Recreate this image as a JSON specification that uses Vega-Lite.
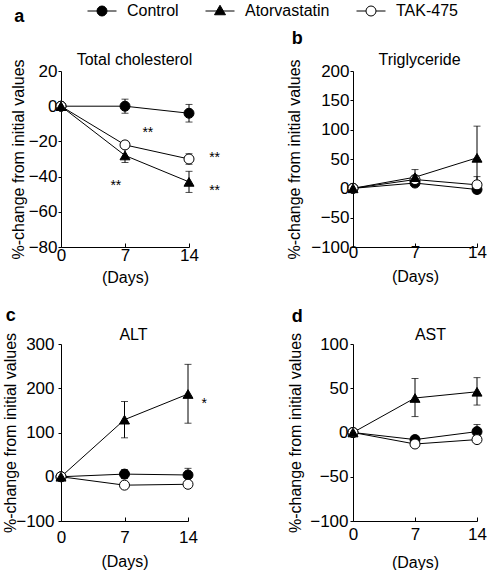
{
  "$schema": "https://vega.github.io/schema/vega-lite/v6.json",
  "padding": {"left": 2, "top": 3, "right": 2, "bottom": 0},
  "config": {
    "font": "Liberation Sans",
    "view": {"stroke": null},
    "axis": {"grid": false, "domainColor": "black", "tickColor": "black", "labelColor": "black", "titleColor": "black", "labelFontSize": 17, "titleFontSize": 16, "titleFontWeight": "normal", "domainWidth": 1, "tickWidth": 1},
    "title": {"color": "black", "fontWeight": "bold", "fontSize": 18, "anchor": "start", "frame": "bounds"}
  },
  "datasets": {
    "a": [
      {"group": "Control", "day": 0, "value": 0, "lo": null, "hi": null},
      {"group": "Control", "day": 7, "value": 0, "lo": -4, "hi": 4},
      {"group": "Control", "day": 14, "value": -4, "lo": -9, "hi": 1},
      {"group": "TAK-475", "day": 0, "value": 0, "lo": null, "hi": null},
      {"group": "TAK-475", "day": 7, "value": -22, "lo": -24, "hi": -20},
      {"group": "TAK-475", "day": 14, "value": -30, "lo": -33, "hi": -27},
      {"group": "Atorvastatin", "day": 0, "value": 0, "lo": null, "hi": null},
      {"group": "Atorvastatin", "day": 7, "value": -28, "lo": -32, "hi": -24},
      {"group": "Atorvastatin", "day": 14, "value": -43, "lo": -49, "hi": -37}
    ],
    "aStars": [
      {"day": 9.5, "value": -13.5, "label": "**"},
      {"day": 6.0, "value": -43.6, "label": "**"},
      {"day": 16.8, "value": -27.7, "label": "**"},
      {"day": 16.8, "value": -46.5, "label": "**"}
    ],
    "b": [
      {"group": "Control", "day": 0, "value": 0, "lo": null, "hi": null},
      {"group": "Control", "day": 7, "value": 9, "lo": 4, "hi": 14},
      {"group": "Control", "day": 14, "value": -2, "lo": -8, "hi": 4},
      {"group": "TAK-475", "day": 0, "value": 0, "lo": null, "hi": null},
      {"group": "TAK-475", "day": 7, "value": 15, "lo": 8, "hi": 22},
      {"group": "TAK-475", "day": 14, "value": 6, "lo": -8, "hi": 20},
      {"group": "Atorvastatin", "day": 0, "value": 0, "lo": null, "hi": null},
      {"group": "Atorvastatin", "day": 7, "value": 19, "lo": 6, "hi": 32},
      {"group": "Atorvastatin", "day": 14, "value": 52, "lo": -2, "hi": 106}
    ],
    "c": [
      {"group": "Control", "day": 0, "value": 0, "lo": null, "hi": null},
      {"group": "Control", "day": 7, "value": 6, "lo": -4, "hi": 16},
      {"group": "Control", "day": 14, "value": 4, "lo": -11, "hi": 19},
      {"group": "TAK-475", "day": 0, "value": 0, "lo": null, "hi": null},
      {"group": "TAK-475", "day": 7, "value": -19, "lo": -25, "hi": -13},
      {"group": "TAK-475", "day": 14, "value": -17, "lo": -23, "hi": -11},
      {"group": "Atorvastatin", "day": 0, "value": 0, "lo": null, "hi": null},
      {"group": "Atorvastatin", "day": 7, "value": 129, "lo": 88, "hi": 170},
      {"group": "Atorvastatin", "day": 14, "value": 187, "lo": 121, "hi": 254}
    ],
    "cStars": [
      {"day": 15.8, "value": 172, "label": "*"}
    ],
    "d": [
      {"group": "Control", "day": 0, "value": 0, "lo": null, "hi": null},
      {"group": "Control", "day": 7, "value": -8, "lo": -12, "hi": -4},
      {"group": "Control", "day": 14, "value": 1, "lo": -7, "hi": 9},
      {"group": "TAK-475", "day": 0, "value": 0, "lo": null, "hi": null},
      {"group": "TAK-475", "day": 7, "value": -13, "lo": -16, "hi": -10},
      {"group": "TAK-475", "day": 14, "value": -8, "lo": -11, "hi": -5},
      {"group": "Atorvastatin", "day": 0, "value": 0, "lo": null, "hi": null},
      {"group": "Atorvastatin", "day": 7, "value": 39, "lo": 18, "hi": 61},
      {"group": "Atorvastatin", "day": 14, "value": 46, "lo": 31, "hi": 62}
    ]
  },
  "columns": 1,
  "spacing": 22,
  "bounds": "full",
  "concat": [
    {
      "hconcat": [
        {
          "width": 128, "height": 176,
          "title": {"text": "a", "offset": 20, "dx": 4, "dy": -5},
          "data": {"name": "a"},
          "resolve": {"axis": {"x": "independent"}},
          "layer": [
            {"transform": [{"filter": "isValid(datum.lo)"}], "mark": {"type": "errorbar", "ticks": {"size": 7}, "color": "black", "thickness": 1},
             "encoding": {
               "x": {"field": "day", "type": "quantitative", "scale": {"domain": [0, 14], "nice": false}, "axis": {"values": [0, 7, 14], "title": "(Days)", "tickSize": -4, "labelPadding": 4, "titlePadding": 6, "labelFlush": false}},
               "y": {"field": "lo", "type": "quantitative", "scale": {"domain": [-80, 20], "nice": false, "zero": false}, "axis": {"values": [-80, -60, -40, -20, 0, 20], "title": "%-change from initial values", "tickSize": 3, "labelPadding": 1, "titlePadding": 2}}, "y2": {"field": "hi"}}},
            {"mark": {"type": "line", "color": "black", "strokeWidth": 1},
             "encoding": {
               "x": {"field": "day", "type": "quantitative", "scale": {"domain": [0, 14], "nice": false}, "axis": {"orient": "top", "title": "Total cholesterol", "labels": false, "ticks": false, "domain": false, "titlePadding": 4, "titleX": 73}},
               "y": {"field": "value", "type": "quantitative", "scale": {"domain": [-80, 20], "nice": false, "zero": false}, "axis": {"values": [-80, -60, -40, -20, 0, 20], "title": "%-change from initial values", "tickSize": 3, "labelPadding": 1, "titlePadding": 2}}, "detail": {"field": "group"}}},
            {"mark": {"type": "point", "filled": true, "stroke": "black", "strokeWidth": 1, "opacity": 1, "size": 100},
             "encoding": {
               "x": {"field": "day", "type": "quantitative", "scale": {"domain": [0, 14], "nice": false}, "axis": null},
               "y": {"field": "value", "type": "quantitative", "scale": {"domain": [-80, 20], "nice": false, "zero": false}, "axis": {"values": [-80, -60, -40, -20, 0, 20], "title": "%-change from initial values", "tickSize": 3, "labelPadding": 1, "titlePadding": 2}},
               "shape": {"condition": {"test": "datum.group === 'Atorvastatin'", "value": "triangle-up"}, "value": "circle"},
               "fill": {"condition": {"test": "datum.group === 'TAK-475'", "value": "white"}, "value": "black"}}},
            {"data": {"name": "aStars"}, "mark": {"type": "text", "fontSize": 14, "dy": 3, "color": "black"},
             "encoding": {
               "x": {"field": "day", "type": "quantitative", "scale": {"domain": [0, 14], "nice": false}, "axis": null},
               "y": {"field": "value", "type": "quantitative", "scale": {"domain": [-80, 20], "nice": false, "zero": false}, "axis": {"values": [-80, -60, -40, -20, 0, 20], "title": "%-change from initial values", "tickSize": 3, "labelPadding": 1, "titlePadding": 2}}, "text": {"field": "label"}}},
            {"transform": [{"filter": "false"}], "mark": {"type": "point", "filled": true, "strokeWidth": 1, "opacity": 1},
             "encoding": {
               "x": {"field": "day", "type": "quantitative", "scale": {"domain": [0, 14], "nice": false}, "axis": null},
               "y": {"field": "value", "type": "quantitative", "scale": {"domain": [-80, 20], "nice": false, "zero": false}, "axis": {"values": [-80, -60, -40, -20, 0, 20], "title": "%-change from initial values", "tickSize": 3, "labelPadding": 1, "titlePadding": 2}},
               "shape": {"field": "group", "type": "nominal", "scale": {"domain": ["Control", "Atorvastatin", "TAK-475"], "range": ["M-2.9,0L-1,0M1,0L2.9,0M1,0A1,1,0,1,1,-1,0A1,1,0,1,1,1,0Z", "M-2.9,0L2.9,0M0,-1.15L1.1,0.75L-1.1,0.75Z", "M-2.9,0L-1,0M1,0L2.9,0M1,0A1,1,0,1,1,-1,0A1,1,0,1,1,1,0Z"]},
                 "legend": {"title": null, "orient": "none", "legendX": 33, "legendY": -68, "direction": "horizontal", "labelFontSize": 16, "labelColor": "black", "symbolSize": 100, "labelOffset": 17, "columnPadding": 24, "symbolStrokeWidth": 1, "symbolOpacity": 1}},
               "fill": {"field": "group", "type": "nominal", "scale": {"domain": ["Control", "Atorvastatin", "TAK-475"], "range": ["black", "black", "white"]},
                 "legend": {"title": null, "orient": "none", "legendX": 33, "legendY": -68, "direction": "horizontal", "labelFontSize": 16, "labelColor": "black", "symbolSize": 100, "labelOffset": 17, "columnPadding": 24, "symbolStrokeWidth": 1, "symbolOpacity": 1}},
               "stroke": {"field": "group", "type": "nominal", "scale": {"domain": ["Control", "Atorvastatin", "TAK-475"], "range": ["black", "black", "black"]},
                 "legend": {"title": null, "orient": "none", "legendX": 33, "legendY": -68, "direction": "horizontal", "labelFontSize": 16, "labelColor": "black", "symbolSize": 100, "labelOffset": 17, "columnPadding": 24, "symbolStrokeWidth": 1, "symbolOpacity": 1}}}}
          ]
        },
        {
          "width": 124, "height": 176,
          "title": {"text": "b", "offset": 3, "dx": 5},
          "data": {"name": "b"},
          "resolve": {"axis": {"x": "independent"}},
          "layer": [
            {"transform": [{"filter": "isValid(datum.lo)"}], "mark": {"type": "errorbar", "ticks": {"size": 7}, "color": "black", "thickness": 1},
             "encoding": {
               "x": {"field": "day", "type": "quantitative", "scale": {"domain": [0, 14], "nice": false}, "axis": {"values": [0, 7, 14], "title": "(Days)", "tickSize": -4, "labelPadding": 1, "titlePadding": 8, "labelFlush": false}},
               "y": {"field": "lo", "type": "quantitative", "scale": {"domain": [-100, 200], "nice": false, "zero": false}, "axis": {"values": [-100, -50, 0, 50, 100, 150, 200], "title": "%-change from initial values", "tickSize": 3, "labelPadding": 1, "titlePadding": 8}}, "y2": {"field": "hi"}}},
            {"mark": {"type": "line", "color": "black", "strokeWidth": 1},
             "encoding": {
               "x": {"field": "day", "type": "quantitative", "scale": {"domain": [0, 14], "nice": false}, "axis": {"orient": "top", "title": "Triglyceride", "labels": false, "ticks": false, "domain": false, "titlePadding": 4, "titleX": 66}},
               "y": {"field": "value", "type": "quantitative", "scale": {"domain": [-100, 200], "nice": false, "zero": false}, "axis": {"values": [-100, -50, 0, 50, 100, 150, 200], "title": "%-change from initial values", "tickSize": 3, "labelPadding": 1, "titlePadding": 8}}, "detail": {"field": "group"}}},
            {"mark": {"type": "point", "filled": true, "stroke": "black", "strokeWidth": 1, "opacity": 1, "size": 100},
             "encoding": {
               "x": {"field": "day", "type": "quantitative", "scale": {"domain": [0, 14], "nice": false}, "axis": null},
               "y": {"field": "value", "type": "quantitative", "scale": {"domain": [-100, 200], "nice": false, "zero": false}, "axis": {"values": [-100, -50, 0, 50, 100, 150, 200], "title": "%-change from initial values", "tickSize": 3, "labelPadding": 1, "titlePadding": 8}},
               "shape": {"condition": {"test": "datum.group === 'Atorvastatin'", "value": "triangle-up"}, "value": "circle"},
               "fill": {"condition": {"test": "datum.group === 'TAK-475'", "value": "white"}, "value": "black"}}}
          ]
        }
      ],
      "spacing": 164,
      "bounds": "flush"
    },
    {
      "hconcat": [
        {
          "width": 127, "height": 177,
          "title": {"text": "c", "offset": 1, "dx": 3},
          "data": {"name": "c"},
          "resolve": {"axis": {"x": "independent"}},
          "layer": [
            {"transform": [{"filter": "isValid(datum.lo)"}], "mark": {"type": "errorbar", "ticks": {"size": 7}, "color": "black", "thickness": 1},
             "encoding": {
               "x": {"field": "day", "type": "quantitative", "scale": {"domain": [0, 14], "nice": false}, "axis": {"values": [0, 7, 14], "title": "(Days)", "tickSize": -4, "labelPadding": 12, "titlePadding": 8, "labelFlush": false}},
               "y": {"field": "lo", "type": "quantitative", "scale": {"domain": [-100, 300], "nice": false, "zero": false}, "axis": {"values": [-100, 0, 100, 200, 300], "title": "%-change from initial values", "tickSize": 3, "labelPadding": 4, "titlePadding": -3}}, "y2": {"field": "hi"}}},
            {"mark": {"type": "line", "color": "black", "strokeWidth": 1},
             "encoding": {
               "x": {"field": "day", "type": "quantitative", "scale": {"domain": [0, 14], "nice": false}, "axis": {"orient": "top", "title": "ALT", "labels": false, "ticks": false, "domain": false, "titlePadding": 2, "titleX": 72}},
               "y": {"field": "value", "type": "quantitative", "scale": {"domain": [-100, 300], "nice": false, "zero": false}, "axis": {"values": [-100, 0, 100, 200, 300], "title": "%-change from initial values", "tickSize": 3, "labelPadding": 4, "titlePadding": -3}}, "detail": {"field": "group"}}},
            {"mark": {"type": "point", "filled": true, "stroke": "black", "strokeWidth": 1, "opacity": 1, "size": 100},
             "encoding": {
               "x": {"field": "day", "type": "quantitative", "scale": {"domain": [0, 14], "nice": false}, "axis": null},
               "y": {"field": "value", "type": "quantitative", "scale": {"domain": [-100, 300], "nice": false, "zero": false}, "axis": {"values": [-100, 0, 100, 200, 300], "title": "%-change from initial values", "tickSize": 3, "labelPadding": 4, "titlePadding": -3}},
               "shape": {"condition": {"test": "datum.group === 'Atorvastatin'", "value": "triangle-up"}, "value": "circle"},
               "fill": {"condition": {"test": "datum.group === 'TAK-475'", "value": "white"}, "value": "black"}}},
            {"data": {"name": "cStars"}, "mark": {"type": "text", "fontSize": 14, "dy": 3, "color": "black"},
             "encoding": {
               "x": {"field": "day", "type": "quantitative", "scale": {"domain": [0, 14], "nice": false}, "axis": null},
               "y": {"field": "value", "type": "quantitative", "scale": {"domain": [-100, 300], "nice": false, "zero": false}, "axis": {"values": [-100, 0, 100, 200, 300], "title": "%-change from initial values", "tickSize": 3, "labelPadding": 4, "titlePadding": -3}}, "text": {"field": "label"}}}
          ]
        },
        {
          "width": 124, "height": 177,
          "title": {"text": "d", "offset": 0, "dx": 4},
          "data": {"name": "d"},
          "resolve": {"axis": {"x": "independent"}},
          "layer": [
            {"transform": [{"filter": "isValid(datum.lo)"}], "mark": {"type": "errorbar", "ticks": {"size": 7}, "color": "black", "thickness": 1},
             "encoding": {
               "x": {"field": "day", "type": "quantitative", "scale": {"domain": [0, 14], "nice": false}, "axis": {"values": [0, 7, 14], "title": "(Days)", "tickSize": -4, "labelPadding": 9, "titlePadding": 12, "labelFlush": false}},
               "y": {"field": "lo", "type": "quantitative", "scale": {"domain": [-100, 100], "nice": false, "zero": false}, "axis": {"values": [-100, -50, 0, 50, 100], "title": "%-change from initial values", "tickSize": 3, "labelPadding": 2, "titlePadding": 6}}, "y2": {"field": "hi"}}},
            {"mark": {"type": "line", "color": "black", "strokeWidth": 1},
             "encoding": {
               "x": {"field": "day", "type": "quantitative", "scale": {"domain": [0, 14], "nice": false}, "axis": {"orient": "top", "title": "AST", "labels": false, "ticks": false, "domain": false, "titlePadding": 2, "titleX": 77}},
               "y": {"field": "value", "type": "quantitative", "scale": {"domain": [-100, 100], "nice": false, "zero": false}, "axis": {"values": [-100, -50, 0, 50, 100], "title": "%-change from initial values", "tickSize": 3, "labelPadding": 2, "titlePadding": 6}}, "detail": {"field": "group"}}},
            {"mark": {"type": "point", "filled": true, "stroke": "black", "strokeWidth": 1, "opacity": 1, "size": 100},
             "encoding": {
               "x": {"field": "day", "type": "quantitative", "scale": {"domain": [0, 14], "nice": false}, "axis": null},
               "y": {"field": "value", "type": "quantitative", "scale": {"domain": [-100, 100], "nice": false, "zero": false}, "axis": {"values": [-100, -50, 0, 50, 100], "title": "%-change from initial values", "tickSize": 3, "labelPadding": 2, "titlePadding": 6}},
               "shape": {"condition": {"test": "datum.group === 'Atorvastatin'", "value": "triangle-up"}, "value": "circle"},
               "fill": {"condition": {"test": "datum.group === 'TAK-475'", "value": "white"}, "value": "black"}}}
          ]
        }
      ],
      "spacing": 165,
      "bounds": "flush"
    }
  ]
}
